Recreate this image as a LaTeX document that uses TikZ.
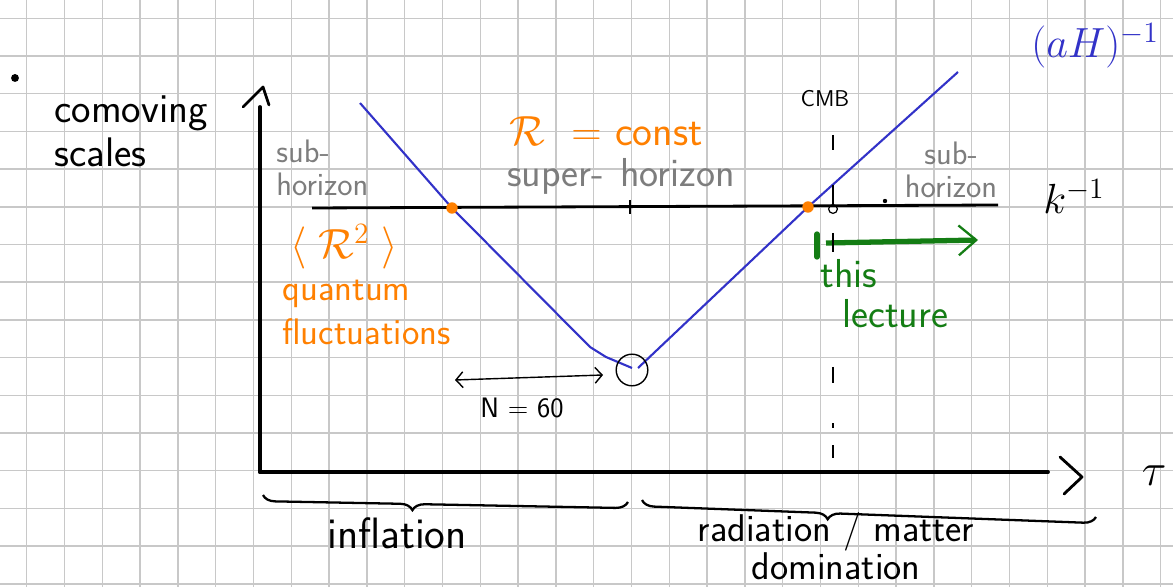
\RequirePackage{fix-cm}
\documentclass[tikz,border=0pt]{standalone}
\usepackage{fontspec}
\usetikzlibrary{arrows.meta,decorations.pathreplacing,positioning}
\definecolor{inkblue}{RGB}{50,50,200}
\definecolor{inkorange}{RGB}{255,128,0}
\definecolor{inkgreen}{RGB}{20,125,20}
\definecolor{inkgray}{RGB}{125,125,125}
\definecolor{gridgray}{RGB}{200,200,200}
\newcommand{\handsize}[2]{\sffamily\fontsize{#1}{#2}\selectfont}
\tikzset{
  gridline/.style={gridgray, line width=0.8pt},
  axisline/.style={line width=2.2pt, line cap=round},
  chevron/.style={line width=1.6pt, line cap=round, line join=round},
  scaleline/.style={line width=1.6pt},
  horizonline/.style={inkblue, line width=1.2pt, line join=round},
  crossdot/.style={circle, fill=inkorange, inner sep=0pt, minimum size=6.5pt},
  handtext/.style={inner sep=0pt, align=left},
  mathlabel/.style={font=\handsize{24pt}{24pt}, inner sep=0pt},
  underbrace/.style={decorate, decoration={brace, mirror, amplitude=7pt, aspect=0.41}, line width=1.3pt},
  cmbdash/.style={line width=0.6pt}
}
\begin{document}
\begin{tikzpicture}[x=0.02cm,y=-0.02cm]
  \useasboundingbox (0,0) rectangle (1173,587);
  \fill[white] (0,0) rectangle (1173,587);

  % grid paper
  \foreach \gx in {0,...,30}
    \draw[gridline] (26.7+37.8*\gx,0) -- (26.7+37.8*\gx,587);
  \foreach \gy in {0,...,15}
    \draw[gridline] (0,18.3+37.7*\gy) -- (1173,18.3+37.7*\gy);

  % stray dot
  \node[circle, fill, inner sep=0pt, minimum size=4.5pt] (bullet) at (15,78) {};

  % axes
  \coordinate (origin) at (260,472);
  \coordinate (ytop) at (260,107);
  \coordinate (xend) at (1048,472);
  \draw[axisline] (origin) -- (ytop);
  \draw[axisline] (origin) -- (xend);
  \draw[chevron] (243,107) -- (263,87) -- (269,105);
  \draw[chevron] (1060,457) -- (1082,477) -- (1064,494);

  \node[handtext, font=\handsize{23.5pt}{25pt}, anchor=north west] (comov) at (54,95) {comoving\\scales};
  \node[font=\handsize{26pt}{26pt}, inner sep=0pt] (tauTxt) at (1154,476) {$\tau$};

  % comoving wavelength k^-1
  \coordinate (kleft) at (312,208);
  \coordinate (kright) at (998,205);
  \draw[scaleline] (kleft) -- (kright);
  \draw[line width=1.6pt] (630,200) -- (630,214);
  \node[circle, fill, inner sep=0pt, minimum size=2.5pt] (kdot) at (885,201) {};
  \node[mathlabel, anchor=base west] (kTxt) at (1043,214) {$k^{-1}$};

  % comoving Hubble radius (aH)^-1
  \coordinate (aHstart) at (360,103);
  \coordinate (exitpt) at (452,208);
  \coordinate (lateinf) at (590,347);
  \coordinate (endinf) at (632,368);
  \coordinate (reentry) at (808,207);
  \coordinate (aHend) at (958,72);
  \draw[horizonline] (aHstart) -- (exitpt) -- (lateinf) -- (606,357) -- (endinf);
  \draw[horizonline] (638,368) -- (reentry) -- (aHend);
  \node[mathlabel, text=inkblue] (aHTxt) at (1095,46) {$(aH)^{-1}$};
  \node[crossdot] (exitdot) at (exitpt) {};
  \node[crossdot] (reentdot) at (reentry) {};

  % end of inflation and number of e-folds
  \node[draw, circle, line width=0.8pt, minimum size=18pt, inner sep=0pt] (endcirc) at (632,370) {};
  \coordinate (nleft) at (455,380);
  \coordinate (nright) at (603,375);
  \draw[line width=0.8pt, {Straight Barb[length=4pt,width=9pt]}-{Straight Barb[length=4pt,width=9pt]}] (nleft) -- (nright);
  \node[handtext, font=\handsize{16pt}{16pt}, anchor=base] (efolds) at (522,418) {N = 60};

  % region labels
  \node[handtext, font=\handsize{18.5pt}{18.5pt}, text=inkgray, anchor=north west] (subleft) at (276,140) {sub-\\horizon};
  \node[handtext, font=\handsize{23pt}{23pt}, text=inkgray, anchor=base] (superTxt) at (621,187) {super-\hspace{0.4em}horizon};
  \node[handtext, font=\handsize{18.5pt}{18.5pt}, text=inkgray, align=center, anchor=north] (subright) at (951,142) {sub-\\horizon};
  \node[handtext, font=\handsize{24pt}{24pt}, text=inkorange, anchor=base] (constTxt) at (606,146) {$\mathcal{R}$\ \ =\ const};
  \node[font=\handsize{24pt}{24pt}, text=inkorange, inner sep=0pt] (powerTxt) at (344,247) {$\langle\;\mathcal{R}^2\;\rangle$};
  \node[handtext, font=\handsize{21pt}{25pt}, text=inkorange, anchor=north west] (quantTxt) at (282,280) {quantum\\fluctuations};

  % this lecture
  \coordinate (lecstart) at (826,243);
  \coordinate (lecend) at (978,240);
  \draw[inkgreen, line width=3pt, line cap=round] (817,234) -- (817,257);
  \draw[inkgreen, line width=3pt, -{Straight Barb[length=10pt,width=17pt,line width=1.3pt]}] (lecstart) -- (lecend);
  \node[handtext, font=\handsize{23pt}{23pt}, text=inkgreen, anchor=base west] (thisTxt) at (820,288) {this};
  \node[handtext, font=\handsize{23pt}{23pt}, text=inkgreen, anchor=base west] (lectTxt) at (842,328) {lecture};

  % CMB
  \node[handtext, font=\handsize{13pt}{13pt}, anchor=base] (cmbTxt) at (825,107) {CMB};
  \foreach \ya/\yb in {135/150, 185/205, 233/252, 367/383, 423/428, 445/458}
    \draw[cmbdash] (833,\ya) -- (833,\yb);
  \node[draw, circle, line width=0.7pt, minimum size=5pt, inner sep=0pt] (cmbmark) at (833,209) {};

  % epochs
  \coordinate (infstart) at (263,495);
  \coordinate (infend) at (628,502);
  \coordinate (radstart) at (642,500);
  \coordinate (radend) at (1096,517);
  \draw[underbrace] (infstart) -- (infend);
  \draw[underbrace] (radstart) -- (radend);
  \node[handtext, font=\handsize{25pt}{25pt}, anchor=base] (infTxt) at (397,548) {inflation};
  \node[handtext, font=\handsize{22pt}{20pt}, align=center, anchor=north] (radTxt) at (836,512) {radiation / matter\\domination};
\end{tikzpicture}
\end{document}
